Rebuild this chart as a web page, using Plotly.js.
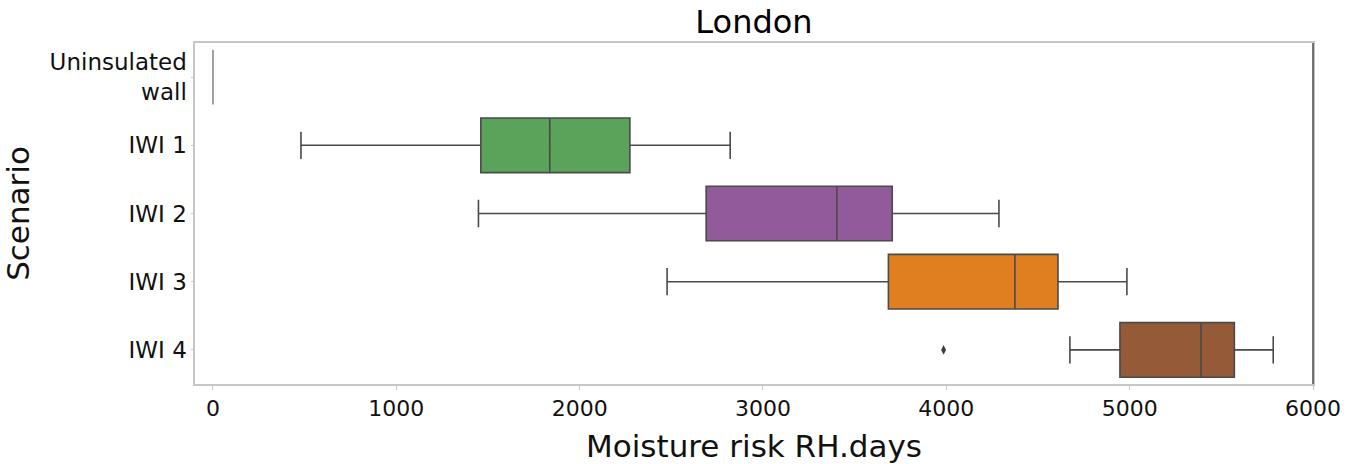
<!DOCTYPE html>
<html>
<head>
<meta charset="utf-8">
<script src="https://cdn.plot.ly/plotly-3.0.1.min.js"></script>
<style>
  html, body { margin: 0; padding: 0; background: #ffffff; }
  #chart { width: 1357px; height: 464px; }
</style>
</head>
<body>
<div id="chart"></div>
<script>
// Moisture risk (RH.days) per insulation scenario, London
const scenarios   = ['Uninsulated<br>wall', 'IWI 1', 'IWI 2', 'IWI 3', 'IWI 4'];
const lowerFence  = [0, 480, 1448, 2477, 4674];
const q1Vals      = [0, 1461, 2690, 3684, 4947];
const medians     = [0, 1837, 3403, 4374, 5389];
const q3Vals      = [0, 2274, 3705, 4609, 5571];
const upperFence  = [0, 2821, 4287, 4985, 5783];
const outlierScenario = ['IWI 4'];
const outlierValues   = [3985];
const xTicks = [0, 1000, 2000, 3000, 4000, 5000, 6000];

const fills = ['#d9534f', '#5ba35a', '#915a98', '#e07f20', '#955a38'];
const edge = '#4a4a4a';
const font = 'DejaVu Sans, Liberation Sans, sans-serif';

const traces = scenarios.map((s, i) => ({
  type: 'box',
  orientation: 'h',
  name: s,
  y: [s],
  q1: [q1Vals[i]],
  median: [medians[i]],
  q3: [q3Vals[i]],
  lowerfence: [lowerFence[i]],
  upperfence: [upperFence[i]],
  boxpoints: false,
  width: 0.8,
  whiskerwidth: 0.5,
  fillcolor: fills[i],
  line: { color: i === 0 ? '#8a8a8a' : edge, width: 1.6 },
  hoverinfo: 'x',
  showlegend: false
}));

traces.push({
  type: 'scatter',
  mode: 'markers',
  x: outlierValues,
  y: outlierScenario,
  marker: { symbol: 'diamond-tall', size: 7, color: '#3d3d3d' },
  showlegend: false,
  hoverinfo: 'x'
});

const layout = {
  width: 1357,
  height: 464,
  paper_bgcolor: '#ffffff',
  plot_bgcolor: '#ffffff',
  margin: { l: 195, r: 44, t: 43, b: 80 },
  boxmode: 'overlay',
  font: { family: font, color: '#111111' },
  title: {
    text: 'London',
    font: { family: font, size: 32, color: '#000000' },
    x: 0.5, xref: 'paper', xanchor: 'center',
    y: 1 - 22 / 464, yref: 'container', yanchor: 'middle'
  },
  xaxis: {
    range: [-98, 6000],
    tickvals: xTicks,
    ticktext: xTicks.map(String),
    showgrid: false,
    zeroline: false,
    showline: true,
    mirror: true,
    linecolor: '#c6c6c6',
    linewidth: 1.6,
    ticks: 'outside',
    ticklen: 4,
    tickwidth: 1,
    tickcolor: '#c6c6c6',
    tickfont: { family: font, size: 22, color: '#111111' },
    title: {
      text: 'Moisture risk RH.days',
      font: { family: font, size: 31, color: '#111111' },
      standoff: 16
    }
  },
  yaxis: {
    type: 'category',
    categoryorder: 'array',
    categoryarray: scenarios,
    range: [4.5, -0.5],
    showgrid: false,
    zeroline: false,
    showline: true,
    mirror: true,
    linecolor: '#c6c6c6',
    linewidth: 1.6,
    ticks: 'outside',
    ticklen: 2,
    tickwidth: 1,
    tickcolor: '#c6c6c6',
    tickfont: { family: font, size: 23, color: '#111111' },
    title: {
      text: 'Scenario',
      font: { family: font, size: 31, color: '#111111' },
      standoff: 12
    }
  },
  shapes: [{
    type: 'line', xref: 'paper', yref: 'paper',
    x0: 1, x1: 1, y0: 0, y1: 1,
    line: { color: '#555555', width: 1.6 }
  }]
};

Plotly.newPlot('chart', traces, layout, { displayModeBar: false, staticPlot: true });
</script>
</body>
</html>
